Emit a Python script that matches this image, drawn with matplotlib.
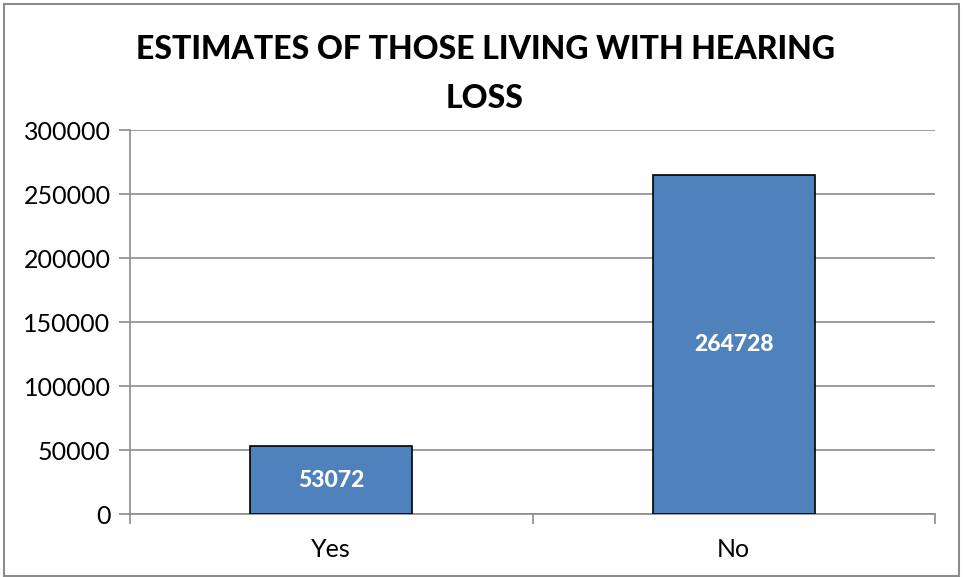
import matplotlib
matplotlib.use("Agg")
import matplotlib.pyplot as plt
from matplotlib.patches import Rectangle

categories = ["Yes", "No"]
values = [53072, 264728]
yticks = [0, 50000, 100000, 150000, 200000, 250000, 300000]
title = "ESTIMATES OF THOSE LIVING WITH HEARING\nLOSS"

plt.rcParams['font.family'] = ['Lato', 'DejaVu Sans']

fig = plt.figure(figsize=(9.63, 5.77), dpi=100)
ax = fig.add_axes([130/963, 63/577, 805/963, 384/577])

x = list(range(len(categories)))
bars = ax.bar(x, values, width=0.4025, color="#4F81BD", edgecolor="black", linewidth=1.2, zorder=3)
for xi, v in zip(x, values):
    ax.text(xi, v/2, str(v), ha="center", va="center", color="white",
            fontsize=16.5, fontweight="black", zorder=4)

ax.set_xlim(-0.5, len(categories) - 0.5)
ax.set_ylim(0, 300000)
ax.set_yticks(yticks)
ax.set_yticklabels([str(t) for t in yticks], fontsize=18)
ax.yaxis.grid(True, color="#8C8C8C", linewidth=1.2, zorder=0)
ax.set_axisbelow(True)

ax.set_xticks(x)
ax.set_xticklabels(categories, fontsize=18)
ax.tick_params(axis="x", length=0, pad=17)
ax.set_xticks([-0.5, 0.5, 1.5], minor=True)
ax.tick_params(axis="x", which="minor", length=7, color="#8C8C8C", width=1.2)
ax.tick_params(axis="y", length=8, color="#8C8C8C", width=1.2, pad=6)

for s in ["top", "right"]:
    ax.spines[s].set_visible(False)
ax.spines["left"].set_color("#8C8C8C")
ax.spines["left"].set_linewidth(1.2)
ax.spines["bottom"].set_color("#8C8C8C")
ax.spines["bottom"].set_linewidth(1.2)

fig.text(485/963, 1 - 74/577, title, ha="center", va="center", fontsize=23,
         fontweight="black", linespacing=1.8)

fig.patches.append(Rectangle((4/963, 0.002), 955/963, 1 - 4/577 - 0.002, transform=fig.transFigure,
                             fill=False, edgecolor="#8C8C8C", linewidth=1.5))

fig.savefig("out.png", dpi=100)
